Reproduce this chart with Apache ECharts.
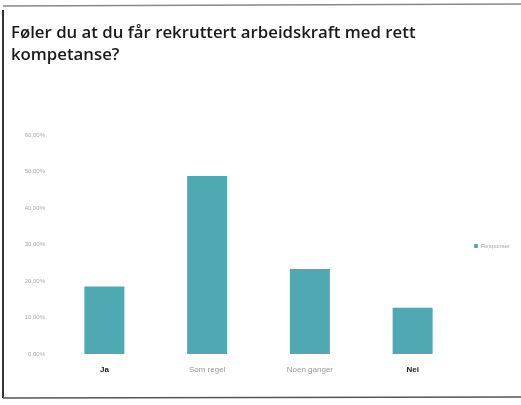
<!DOCTYPE html>
<html><head><meta charset="utf-8">
<script src="https://cdn.jsdelivr.net/npm/echarts@6/dist/echarts.min.js"></script>
<style>html,body{margin:0;padding:0;background:#fff}#c{width:521px;height:405px}</style>
</head><body><div id="c"></div>
<script>
const categories = ['Ja', 'Som regel', 'Noen ganger', 'Nei'];
const values = [18.5, 48.8, 23.3, 12.7];
const seriesName = 'Responser';
const yTicks = [0, 10, 20, 30, 40, 50, 60];
const titleText = 'Føler du at du får rekruttert arbeidskraft med rett\nkompetanse?';

const chart = echarts.init(document.getElementById('c'));
const darkLabels = {'Ja': true, 'Nei': true};
chart.setOption({
  animation: false,
  backgroundColor: '#fff',
  title: {
    text: titleText, left: 6, top: 17,
    textStyle: {fontFamily: 'Open Sans', fontWeight: 600, fontSize: 16.8, color: '#1a1a1a', lineHeight: 22}
  },
  legend: {
    right: 6, top: 238, itemWidth: 4, itemHeight: 4, itemGap: 2,
    textStyle: {fontSize: 6, color: '#aaa', padding: [0,0,0,-2]},
    data: [seriesName]
  },
  grid: {left: 53, right: 57, top: 135, bottom: 51},
  xAxis: {
    type: 'category',
    data: categories.map(c => ({value: c, textStyle: darkLabels[c] ? {color: '#222', fontWeight: 'bold'} : {color: '#999'}})),
    axisLine: {show: false}, axisTick: {show: false},
    axisLabel: {fontSize: 8, fontFamily: 'Liberation Sans', margin: 12}
  },
  yAxis: {
    type: 'value', min: yTicks[0], max: yTicks[yTicks.length - 1], interval: 10,
    splitLine: {show: false}, axisLine: {show: false}, axisTick: {show: false},
    axisLabel: {fontSize: 6, color: '#aaa', margin: 8, formatter: v => v.toFixed(2).replace('.', ',') + '%'}
  },
  series: [{
    name: seriesName, type: 'bar', data: values, barWidth: 40,
    itemStyle: {color: '#4fa9b2'}
  }],
  graphic: [
    {type: 'line', shape: {x1: 3, y1: 10, x2: 3, y2: 398}, style: {stroke: '#333', lineWidth: 2}},
    {type: 'line', shape: {x1: 3, y1: 6, x2: 521, y2: 4}, style: {stroke: '#888', lineWidth: 1.5}},
    {type: 'line', shape: {x1: 3, y1: 398, x2: 521, y2: 397}, style: {stroke: '#555', lineWidth: 1.5}}
  ]
});
</script></body></html>
